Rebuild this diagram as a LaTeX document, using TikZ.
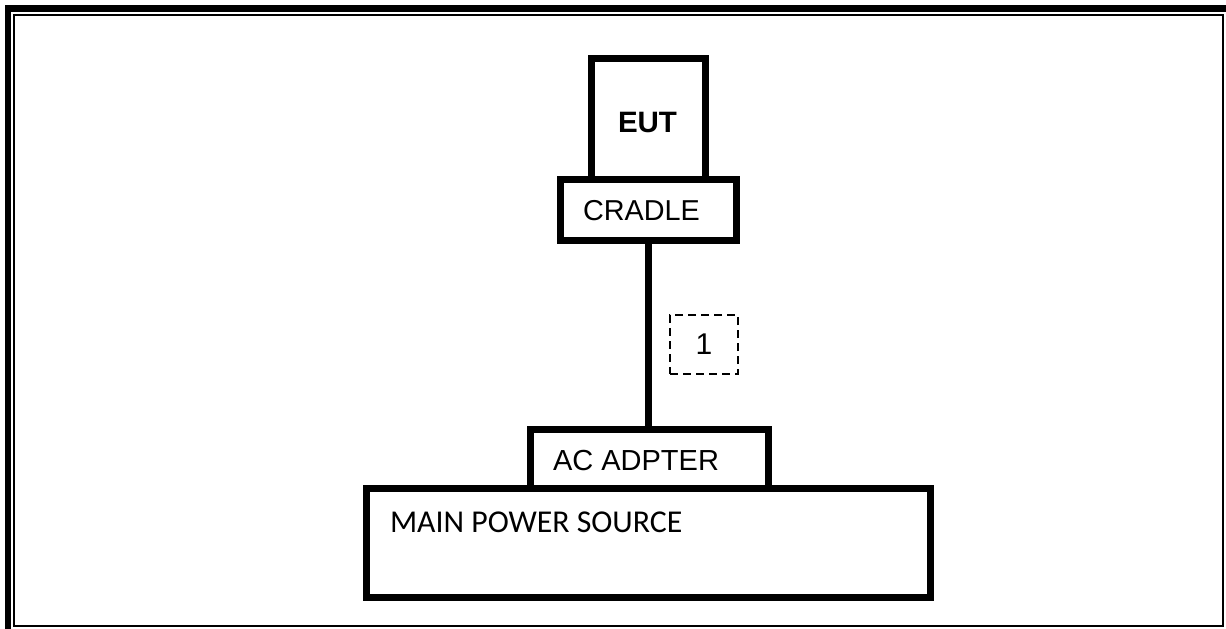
\documentclass[tikz,border=0pt]{standalone}
\usepackage{fontspec}
\setmainfont{Liberation Sans}
\newfontfamily\calfont{Carlito}
\begin{document}
\begin{tikzpicture}[x=1pt,y=-1pt,
  boxnode/.style={draw,line width=7pt,rectangle,inner sep=0pt,outer sep=0pt,minimum width=#1},
  lbl/.style={inner sep=0pt,outer sep=0pt,anchor=base west},
  dashbox/.style={draw,line width=1.8pt,dash pattern=on 8pt off 5pt,inner sep=0pt,outer sep=0pt,minimum width=68pt,minimum height=59pt}]
\useasboundingbox (0,0) rectangle (1226,629);
% page border
\draw[line width=7pt] (5,8.5) -- (1226,8.5);
\draw[line width=6pt] (8,5) -- (8,629);
\draw[line width=2pt] (14,15) rectangle (1223,625.5);
% boxes
\node[boxnode=114pt,minimum height=121pt] (eut) at (648,119) {};
\node[boxnode=176pt,minimum height=60.5pt] (cradle) at (648.5,209.75) {};
\node[boxnode=238pt,minimum height=59pt] (ac) at (649.5,459) {};
\node[boxnode=564.5pt,minimum height=109pt] (main) at (648.25,543) {};
% labels
\node[inner sep=0pt] (eutl) at (647.5,122) {\fontsize{29.5}{34}\selectfont\bfseries EUT};
\node[lbl] (cradlel) at (583,220) {\fontsize{28.8}{34}\selectfont CRADLE};
\node[lbl] (acl) at (553,470) {\fontsize{29}{34}\selectfont AC ADPTER};
\node[lbl] (mainl) at (390,532) {\fontsize{31.8}{38}\selectfont\calfont MAIN POWER SOURCE};
% cable
\draw[line width=6.5pt] (cradle.south) -- (cradle.south |- ac.north);
\node[dashbox] (one) at (704,344.5) {\fontsize{30}{34}\selectfont 1};
\end{tikzpicture}
\end{document}
